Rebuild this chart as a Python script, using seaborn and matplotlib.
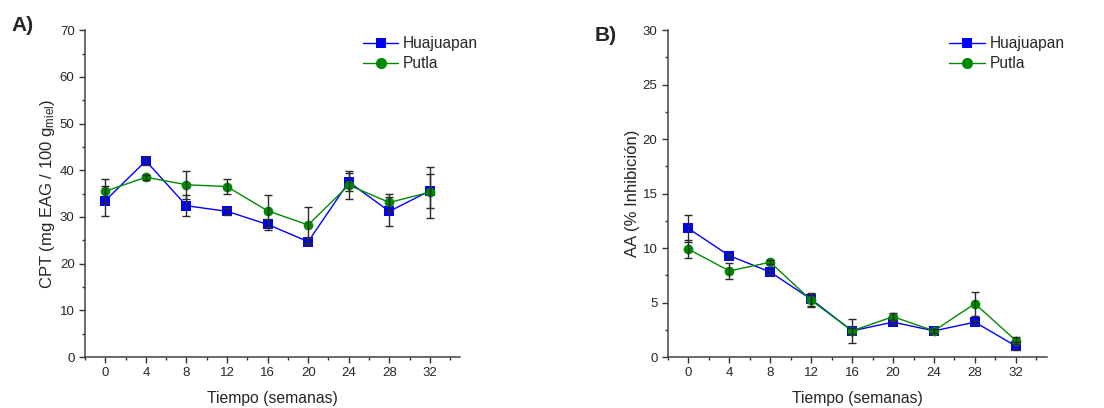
import matplotlib
matplotlib.use('Agg')
import matplotlib.pyplot as plt
from matplotlib.ticker import MultipleLocator
import seaborn as sns
import pandas as pd

#   Data
semanas = [0, 4, 8, 12, 16, 20, 24, 28, 32]

cpt_huajuapan = [33.5, 42.0, 32.4, 31.2, 28.4, 24.7, 37.5, 31.2, 35.6]
cpt_huajuapan_err = [3.2, 0.8, 2.2, 0.8, 1.1, 0.8, 2.0, 3.1, 3.6]
cpt_putla = [35.5, 38.5, 36.9, 36.5, 31.3, 28.3, 36.8, 33.1, 35.3]
cpt_putla_err = [2.6, 0.5, 3.0, 1.6, 3.5, 3.8, 3.0, 1.8, 5.5]

aa_huajuapan = [11.8, 9.3, 7.8, 5.3, 2.4, 3.2, 2.4, 3.2, 1.0]
aa_huajuapan_err = [1.2, 0.2, 0.2, 0.6, 1.1, 0.2, 0.2, 0.2, 0.4]
aa_putla = [9.9, 7.9, 8.7, 5.2, 2.4, 3.7, 2.4, 4.9, 1.5]
aa_putla_err = [0.8, 0.7, 0.2, 0.6, 0.3, 0.3, 0.2, 1.1, 0.3]

sns.set_style('ticks')
plt.rcParams['font.family'] = ['Liberation Sans', 'DejaVu Sans']
plt.rcParams['mathtext.fontset'] = 'custom'
plt.rcParams['mathtext.rm'] = 'Liberation Sans'
plt.rcParams['mathtext.it'] = 'Liberation Sans'

colores = {'Huajuapan': '#0000ff', 'Putla': '#008a00'}
marcadores = {'Huajuapan': 's', 'Putla': 'o'}
tamanos = {'Huajuapan': 7, 'Putla': 8}


def make_df(hua, hua_err, put, put_err):
    df_h = pd.DataFrame({'Tiempo': semanas, 'valor': hua, 'err': hua_err, 'Sitio': 'Huajuapan'})
    df_p = pd.DataFrame({'Tiempo': semanas, 'valor': put, 'err': put_err, 'Sitio': 'Putla'})
    return pd.concat([df_h, df_p], ignore_index=True)


def draw_panel(ax, df, ymax, ymajor, ylabel, letter, letter_x, letter_y):
    sns.lineplot(data=df, x='Tiempo', y='valor', hue='Sitio', style='Sitio',
                 palette=colores, markers=marcadores, dashes=False, linewidth=1.0,
                 markersize=7, markeredgewidth=0, ax=ax, zorder=3)
    for line in ax.lines:
        lab = line.get_label()
        if lab in tamanos:
            line.set_markersize(tamanos[lab])
    for sitio in ['Huajuapan', 'Putla']:
        sub = df[df['Sitio'] == sitio]
        ax.errorbar(sub['Tiempo'], sub['valor'], yerr=sub['err'], fmt='none',
                    ecolor='#2a2a2a', elinewidth=1.0, capsize=3, capthick=1.0, zorder=4)
    ax.set_xlim(-2, 35)
    ax.set_ylim(0, ymax)
    ax.set_xticks(semanas)
    ax.xaxis.set_minor_locator(MultipleLocator(2))
    ax.yaxis.set_major_locator(MultipleLocator(ymajor))
    ax.yaxis.set_minor_locator(MultipleLocator(ymajor / 2))
    ax.tick_params(which='major', length=4, width=1, labelsize=9.5, color='#333333')
    ax.tick_params(which='minor', length=2.5, width=1, color='#333333')
    for s in ['left', 'bottom']:
        ax.spines[s].set_linewidth(1.1)
        ax.spines[s].set_color('#444444')
    sns.despine(ax=ax)
    ax.set_xlabel('Tiempo (semanas)', fontsize=11.3, labelpad=8)
    ax.set_ylabel(ylabel, fontsize=12, labelpad=2)
    handles, labels = ax.get_legend_handles_labels()
    for h in handles:
        if h.get_label() in tamanos:
            h.set_markersize(tamanos[h.get_label()])
    leg = ax.legend(handles, labels, loc='upper right', bbox_to_anchor=(1.085, 1.025),
                    frameon=False, fontsize=11.2, handlelength=2.3, handletextpad=0.3,
                    labelspacing=0.35)
    leg.set_title(None)
    ax.figure.text(letter_x, letter_y, letter, fontsize=15, fontweight='bold', va='center')


fig = plt.figure(figsize=(11.04, 4.08), dpi=100)
axA = fig.add_axes([0.077, 0.125, 0.340, 0.801])
axB = fig.add_axes([0.605, 0.125, 0.343, 0.801])

draw_panel(axA, make_df(cpt_huajuapan, cpt_huajuapan_err, cpt_putla, cpt_putla_err),
           70, 10, r'CPT (mg EAG / 100 g$_{\mathrm{miel}}$)', 'A)', 0.010, 0.937)
draw_panel(axB, make_df(aa_huajuapan, aa_huajuapan_err, aa_putla, aa_putla_err),
           30, 5, 'AA (% Inhibición)', 'B)', 0.539, 0.912)

fig.savefig('out.png', dpi=100)
